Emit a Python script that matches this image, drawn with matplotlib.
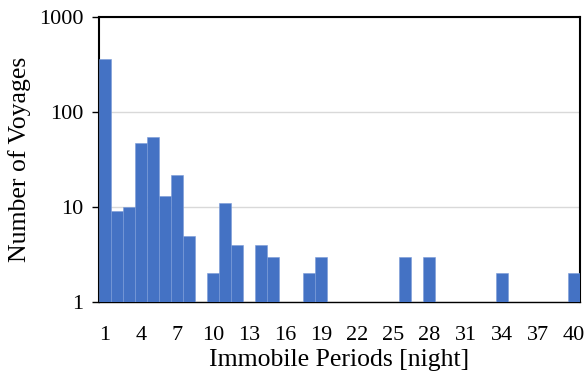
import numpy as np
import matplotlib
matplotlib.use("Agg")
import matplotlib.pyplot as plt

# nights 1..40 and voyage counts (0 = no bar)
nights = list(range(1, 41))
voyages = [364, 9, 10, 47, 55, 13, 22, 5, 0, 2,
           11, 4, 0, 4, 3, 0, 0, 2, 3, 0,
           0, 0, 0, 0, 0, 3, 0, 3, 0, 0,
           0, 0, 0, 2, 0, 0, 0, 0, 0, 2]
tick_nights = list(range(1, 41, 3))

plt.rcParams["font.family"] = ["Liberation Serif", "DejaVu Serif"]

fig = plt.figure(figsize=(5.85, 3.79), dpi=100)
ax = fig.add_axes([0.169, 0.203, 0.822, 0.752])

vals = np.array(voyages, dtype=float)
vals[vals <= 0] = np.nan
ax.bar(nights, vals - 1, width=1.0, bottom=1, color="#4472C4",
       edgecolor="#7a9bd8", linewidth=0.4, zorder=3)

ax.set_yscale("log")
ax.set_ylim(1, 1000)
ax.set_xlim(0.5, 40.5)
ax.set_yticks([1, 10, 100, 1000])
ax.set_yticklabels(["1", "10", "100", "1000"])
ax.minorticks_off()
ax.set_xticks(tick_nights)
ax.set_xticklabels([str(t) for t in tick_nights])

ax.tick_params(axis="y", labelsize=16, length=5, width=1, direction="out", pad=6)
ax.tick_params(axis="x", labelsize=16, length=0, pad=17)
ax.grid(axis="y", color="#d9d9d9", linewidth=1, zorder=0)

for s in ["left", "top", "right"]:
    ax.spines[s].set_color("black")
    ax.spines[s].set_linewidth(1.5)
ax.spines["bottom"].set_color("black")
ax.spines["bottom"].set_linewidth(1)

ax.set_xlabel("Immobile Periods [night]", fontsize=18.5, labelpad=3)
ax.set_ylabel("Number of Voyages", fontsize=18.5, labelpad=6)

fig.savefig("out.png", dpi=100)
